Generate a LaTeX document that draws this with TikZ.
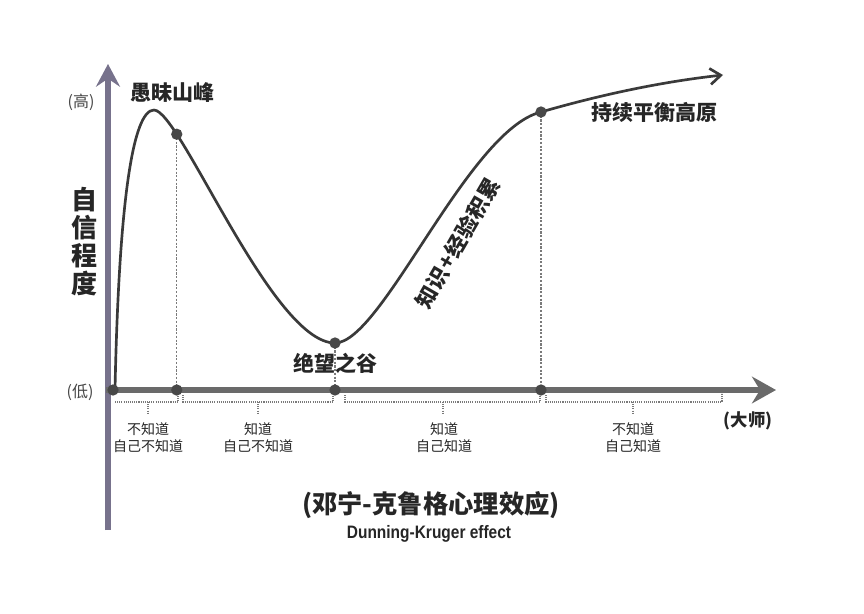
\documentclass[tikz,border=0pt]{standalone}
\usepackage{fontspec}
\setmainfont{Noto Sans CJK SC}
\newfontfamily\latinb{Liberation Sans}
\usetikzlibrary{arrows.meta}
\definecolor{curvec}{HTML}{3A3A3A}
\definecolor{vaxis}{HTML}{77728C}
\definecolor{haxis}{HTML}{6A6A6A}
\definecolor{dotc}{HTML}{484848}
\definecolor{guide}{HTML}{7A7A7A}
\definecolor{txt}{HTML}{262626}
\begin{document}
\begin{tikzpicture}[x=0.75pt,y=-0.75pt,
  lbl/.style={font=\fontsize{15.75}{18}\selectfont\bfseries, text=txt, inner sep=0pt},
  small/.style={font=\fontsize{10.5}{12.75}\selectfont, align=center, inner sep=0pt, text=txt},
  axlbl/.style={font=\fontsize{12}{14}\selectfont, text=txt!85, inner sep=0pt},
  dotm/.style={circle, fill=dotc, minimum size=8.5pt, inner sep=0pt},
  guideline/.style={guide, line width=1.1pt, dash pattern=on 1.6pt off 1.2pt},
  bracket/.style={guide, line width=0.9pt, dash pattern=on 0.8pt off 0.8pt},
]
\useasboundingbox (0,0) rectangle (864,614);
\fill[white] (0,0) rectangle (864,614);

% axes
\coordinate (O) at (108,390);
\coordinate (ytop) at (108,64);
\coordinate (ybot) at (108,530);
\coordinate (xstart) at (106,390);
\coordinate (xend) at (776,390);
\draw[vaxis, line width=3.8pt, -{Stealth[length=17pt,width=18pt,inset=6pt]}] (ybot) -- (ytop);
\draw[haxis, line width=4.2pt, -{Stealth[length=18pt,width=20pt,inset=6pt]}] (xstart) -- (xend);

% curve
\draw[curvec, line width=2pt, -{Straight Barb[length=8pt,width=12pt,line width=2pt]}]
  (115,390) .. controls (119,200) and (133,110) .. (154,110) coordinate (peak)
  .. controls (180,110) and (272,343) .. coordinate[pos=0.2] (d1) (335,343) coordinate (valley)
  .. controls (382,343) and (468,130) .. (541,112) coordinate (plat)
  .. controls (600,95) and (660,82) .. (723,75);

% guides
\draw[guideline] (d1) -- (d1 |- O);
\draw[guideline] (valley) -- (valley |- O);
\draw[guideline] (plat) -- (plat |- O);

% dots
\node[dotm] (o0) at (113,390) {};
\node[dotm] (p1) at (d1) {};
\node[dotm] (p2) at (valley) {};
\node[dotm] (p3) at (plat) {};
\node[dotm] (a1) at (d1 |- O) {};
\node[dotm] (a2) at (valley |- O) {};
\node[dotm] (a3) at (plat |- O) {};

% brackets
\draw[bracket] (115,402) -- (178,402) -- (178,395);
\draw[bracket] (148,402) -- (148,413);
\draw[bracket] (183,395) -- (183,402) -- (333,402) -- (333,395);
\draw[bracket] (258,402) -- (258,413);
\draw[bracket] (345,395) -- (345,402) -- (540,402) -- (540,395);
\draw[bracket] (443,402) -- (443,413);
\draw[bracket] (546,395) -- (546,402) -- (722,402) -- (722,393);
\draw[bracket] (633,402) -- (633,413);

% bottom labels
\node[small] (l1) at (148,438) {不知道\\自己不知道};
\node[small] (l2) at (258,438) {知道\\自己不知道};
\node[small] (l3) at (444,438) {知道\\自己知道};
\node[small] (l4) at (633,438) {不知道\\自己知道};
\node[lbl, font=\fontsize{13}{15}\selectfont\bfseries] (master) at (748,421) {(大师)};

% axis labels
\node[axlbl] (hi) at (81,102) {(高)};
\node[axlbl] (lo) at (80,392) {(低)};
\node[font=\fontsize{19.5}{21}\selectfont\bfseries, align=center, text=txt, inner sep=0pt] (ylab) at (84,242) {自\\信\\程\\度};

% curve labels
\node[lbl] (peaklbl) at (172,93) {愚昧山峰};
\node[lbl] (valleylbl) at (335,363) {绝望之谷};
\node[lbl] (platlbl) at (654,112) {持续平衡高原};
\node[lbl, font=\fontsize{16}{18}\selectfont\bfseries\addfontfeatures{LetterSpace=4}, rotate=60] (growlbl) at (458,243) {知识+经验积累};

% title
\node[font=\fontsize{19}{21}\selectfont\bfseries, text=txt, inner sep=0pt] (title) at (431,505) {(邓宁-克鲁格心理效应)};
\node[font=\latinb\fontsize{13.5}{15}\selectfont\bfseries, text=txt, inner sep=0pt, xscale=0.86] (subtitle) at (429,534) {Dunning-Kruger effect};
\end{tikzpicture}
\end{document}
